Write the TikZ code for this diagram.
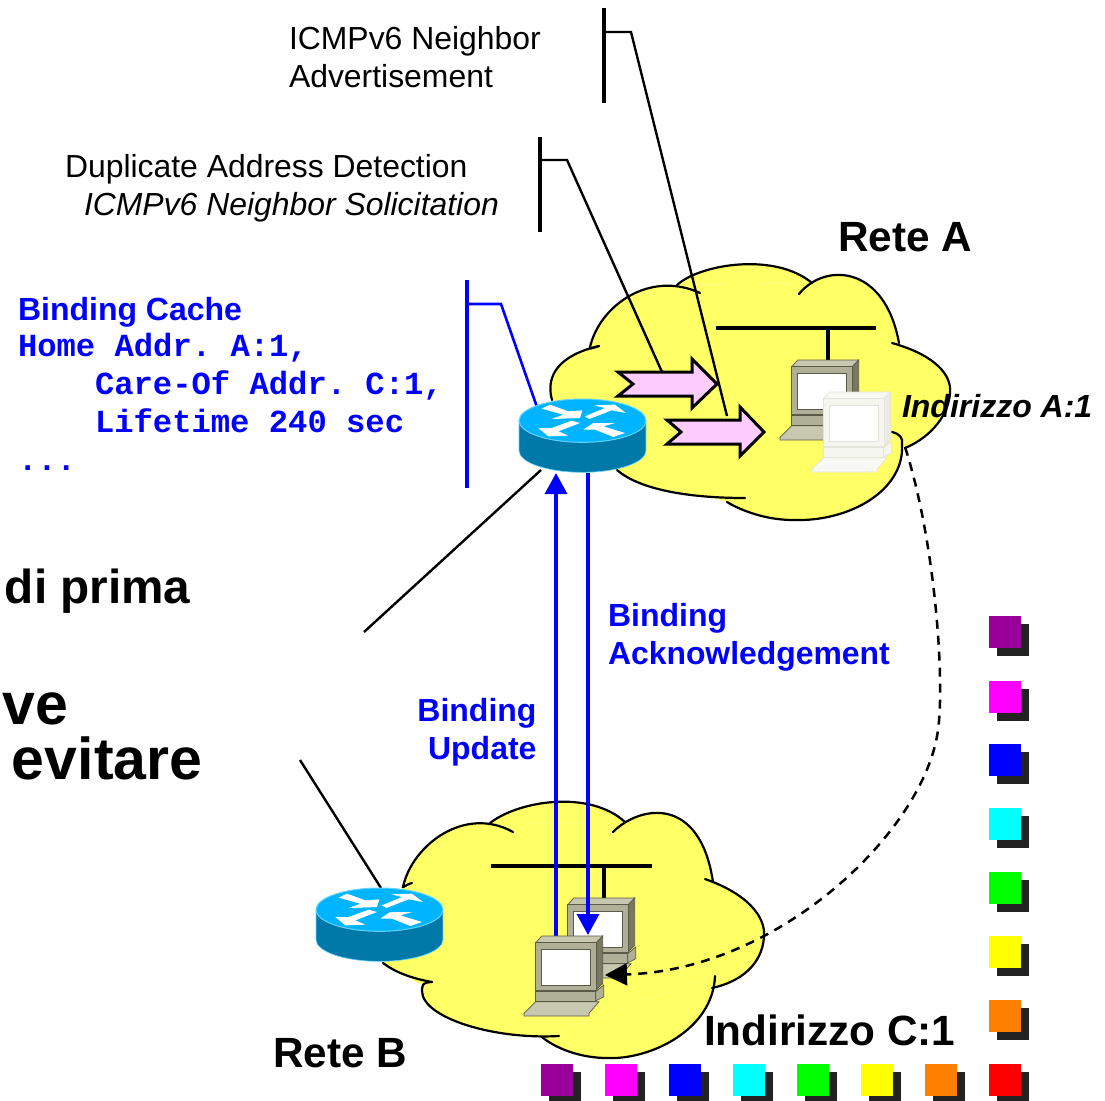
\documentclass[tikz,border=0pt]{standalone}
\usepackage{fontspec}
\setmainfont{Liberation Sans}
\setmonofont{Liberation Mono}
\usetikzlibrary{arrows.meta}
\definecolor{cloudy}{HTML}{FFFF66}
\definecolor{pinkar}{HTML}{FFCCFF}
\definecolor{rtop}{HTML}{00B4FF}
\definecolor{rside}{HTML}{0078A8}
\definecolor{redge}{HTML}{66D4FF}
\definecolor{shad}{HTML}{222222}
\definecolor{purp}{HTML}{990099}
\definecolor{orng}{HTML}{FF8000}
\definecolor{mag}{HTML}{FF00FF}
\definecolor{cyn}{HTML}{00FFFF}
\definecolor{grn}{HTML}{00FF00}
\definecolor{yel}{HTML}{FFFF00}
\definecolor{blu}{HTML}{0000FF}
\definecolor{rd}{HTML}{FF0000}
\definecolor{gface}{HTML}{B0B098}
\definecolor{gtop}{HTML}{C8C8B0}
\definecolor{gside}{HTML}{787860}
\definecolor{gedge}{HTML}{5A5A48}
\definecolor{wface}{HTML}{F6F6F0}
\definecolor{wtop}{HTML}{F8F8F4}
\definecolor{wside}{HTML}{ECECE4}
\definecolor{wedge}{HTML}{E4E4DC}
\newcommand{\txt}[3]{\fontsize{#1}{#2}\selectfont #3}
\tikzset{
 lab/.style={anchor=base west,inner sep=0pt,outer sep=0pt},
 labr/.style={anchor=base east,inner sep=0pt,outer sep=0pt},
 ln/.style={draw=black,line width=2.4pt},
 lnax/.style={draw=black,line width=3.2pt},
 bl/.style={draw=blu,line width=2.6pt},
 blax/.style={draw=blu,line width=3.3pt},
 cl/.style={draw=black,line width=2.2pt,line cap=round},
 pinkarrow/.style={draw=black,fill=pinkar,line width=3pt,miter limit=10},
 blhead/.style={-{Triangle[length=21pt,width=22pt,color=blu]}},
}
\newcommand{\routerpic}[2]{%
\begin{scope}[shift={(#1,#2)},x=0.3333pt,y=-0.3333pt]
 \fill[rside,draw=redge,line width=0.6pt] (0,65) -- (0,155) arc[start angle=180,end angle=0,x radius=190.5,y radius=65] -- (381,65) -- cycle;
 \fill[rtop,draw=redge,line width=1pt] (190.5,65) ellipse[x radius=190.5,y radius=65];
 \fill[white] (68,29)--(93,17)--(148,37)--(190,34)--(183,57)--(98,60)--(133,47)--cycle;
 \fill[white] (198,52)--(258,27)--(226,19)--(288,17)--(321,42)--(278,34)--(211,60)--cycle;
 \fill[white] (58,87)--(88,112)--(148,110)--(118,97)--(183,72)--(158,65)--(98,87)--cycle;
 \fill[white] (193,92)--(223,72)--(288,72)--(253,82)--(318,102)--(283,114)--(228,92)--cycle;
\end{scope}}
\newcommand{\computerpic}[6]{%
\begin{scope}[shift={(#1,#2)}]
 \filldraw[fill=#4,draw=#6,line width=0.7pt] (0,77.3)--(11.7,65.7)--(75,65.7)--(65,77.3)--(65,80)--(0,80)--cycle;
 \filldraw[fill=#3,draw=#6,line width=0.7pt] (11.7,55.7) rectangle (71.7,65);
 \filldraw[fill=#3,draw=#6,line width=0.7pt] (71.7,55.7)--(79.7,49)--(79.7,60.7)--(71.7,65)--cycle;
 \filldraw[fill=#4,draw=#6,line width=0.7pt] (11.7,6.7)--(17.7,0)--(78.7,0)--(72.3,6.7)--cycle;
 \filldraw[fill=#5,draw=#6,line width=0.7pt] (72.3,6.7)--(78.7,0)--(78.7,47.3)--(72.3,54)--cycle;
 \filldraw[fill=#3,draw=#6,line width=0.7pt] (11.7,6.7) rectangle (72.3,54);
 \filldraw[fill=white,draw=#6,line width=0.7pt] (17,13) rectangle (66.7,49);
\end{scope}}
\newcommand{\chipbox}[3]{%
 \fill[shad] (#1+8,#2+8) rectangle ++(32,32);
 \fill[#3] (#1,#2) rectangle ++(32,32);}
\newcommand{\cloudAlobes}{%
\lobe{(599,346) .. controls (590,349) and (590,349) .. (590,347) .. controls (600,305) and (650,270) .. (700,293)}
\lobe{(677,285) .. controls (700,264) and (775,252) .. (812,283)}
\lobe{(799,294) .. controls (825,262) and (885,265) .. (899,343)}
\lobe{(892,343) .. controls (935,355) and (952,375) .. (950,393) .. controls (948,420) and (925,440) .. (905,448)}
\lobe{(892,432) .. controls (900,434) and (903,438) .. (902,444) .. controls (905,490) and (850,522) .. (793,520) .. controls (765,520) and (740,510) .. (727,502)}
\lobe{(745,498) .. controls (690,498) and (640,490) .. (617,470)}
\lobe{(552,400) .. controls (545,375) and (560,355) .. (599,346)}}
\newcommand{\cloudBlobes}{%
\lobe{(412,883) .. controls (405,885) and (403,888) .. (403,887) .. controls (412,845) and (465,805) .. (513,832)}
\lobe{(490,823) .. controls (520,800) and (590,790) .. (625,822)}
\lobe{(613,832) .. controls (640,805) and (700,795) .. (713,882)}
\lobe{(705,879) .. controls (745,893) and (766,915) .. (764,937) .. controls (762,965) and (740,982) .. (712,988)}
\lobe{(715,976) .. controls (713,1030) and (650,1060) .. (607,1058) .. controls (580,1058) and (555,1048) .. (542,1037)}
\lobe{(559,1036) .. controls (490,1040) and (412,1015) .. (423,985) .. controls (424,983) and (428,982) .. (432,982)}
\lobe{(432,982) .. controls (410,978) and (395,972) .. (383,963)}}
\begin{document}
\begin{tikzpicture}[x=1pt,y=-1pt]
\useasboundingbox (0,0) rectangle (1105,1100);
\clip (0,0) rectangle (1105,1100);
\fill[white] (0,0) rectangle (1105,1100);
% cloud fills, then outlines
\fill[cloudy] (599,346)--(677,285)--(812,283)--(899,343)--(905,448)--(892,432)--(902,444)--(727,502)--(617,470)--(552,400)--cycle;
\fill[cloudy] (403,887)--(490,823)--(625,822)--(713,882)--(712,988)--(715,976)--(542,1037)--(422,985)--(383,963)--cycle;
\def\lobe#1{\fill[cloudy] #1 -- cycle;}
\cloudAlobes
\cloudBlobes
\def\lobe#1{\draw[cl] #1;}
\cloudAlobes
\cloudBlobes
% named connector ends
\coordinate (netAl) at (716,328); \coordinate (netAr) at (876,328);
\coordinate (netAt) at (828,328); \coordinate (netAb) at (828,360);
\coordinate (netBl) at (491,866); \coordinate (netBr) at (652,866);
\coordinate (netBt) at (604,866); \coordinate (netBb) at (604,898);
\coordinate (brkAt) at (604,8); \coordinate (brkAb) at (604,103);
\coordinate (brkAm) at (604,32); \coordinate (brkAe) at (631,32); \coordinate (arrTwoTop) at (727,416);
\coordinate (brkBt) at (540,137); \coordinate (brkBb) at (540,232);
\coordinate (brkBm) at (540,160); \coordinate (brkBe) at (567,160); \coordinate (arrOneTop) at (662,372);
\coordinate (brkCt) at (467,280); \coordinate (brkCb) at (467,488);
\coordinate (brkCm) at (467,304); \coordinate (brkCe) at (501,304); \coordinate (routerAtop) at (538,410);
\coordinate (routerAlow) at (541,470); \coordinate (fadeA) at (364,632);
\coordinate (fadeB) at (300,760); \coordinate (routerBtop) at (381,888);
\coordinate (upStart) at (556,940); \coordinate (upEnd) at (556,473);
\coordinate (downStart) at (588,473); \coordinate (downEnd) at (588,935);
\coordinate (dashStart) at (905,447); \coordinate (dashEnd) at (605,975);
\draw[lnax] (netAl)--(netAr);
\draw[lnax] (netAt)--(netAb);
\draw[lnax] (netBl)--(netBr);
\draw[lnax] (netBt)--(netBb);
\draw[ln] (routerAlow)--(fadeA);
\draw[ln] (fadeB)--(routerBtop);
\draw[lnax] (brkAt)--(brkAb);
\draw[ln] (brkAm)--(brkAe)--(arrTwoTop);
\draw[lnax] (brkBt)--(brkBb);
\draw[ln] (brkBm)--(brkBe)--(arrOneTop);
\draw[blax] (brkCt)--(brkCb);
\draw[bl] (brkCm)--(brkCe)--(routerAtop);
% computers
\computerpic{780}{360}{gface}{gtop}{gside}{gedge}
\computerpic{812}{392}{wface}{wtop}{wside}{wedge}
\computerpic{556}{898}{gface}{gtop}{gside}{gedge}
% pink arrows
\draw[pinkarrow] (618,372)--(633,384)--(618,396)--(692,396)--(692,408)--(717,384)--(692,359)--(692,372)--cycle;
\draw[pinkarrow] (667,420)--(681,432)--(667,444)--(740,444)--(740,456)--(764,432)--(740,407)--(740,420)--cycle;
% routers
\routerpic{519}{399}
\routerpic{316}{888}
% blue link arrows
\draw[blax,blhead] (upStart)--(upEnd);
\draw[blax,blhead] (downStart)--(downEnd);
\computerpic{524}{936}{gface}{gtop}{gside}{gedge}
% dashed
\draw[draw=black,line width=2.5pt,dash pattern=on 9pt off 7pt,-{Triangle[length=22pt,width=22pt]}] (dashStart) .. controls (935,540) and (945,680) .. (938,730) .. controls (925,830) and (780,970) .. (dashEnd);
% texts
\node[lab] (t1) at (289,49) {\txt{31.9}{38}{ICMPv6 Neighbor}};
\node[lab] (t2) at (289,87) {\txt{31.9}{38}{Advertisement}};
\node[lab] (t3) at (65,177) {\txt{31.9}{38}{Duplicate Address Detection}};
\node[lab] (t4) at (84,215) {\txt{31.9}{38}{\itshape ICMPv6 Neighbor Solicitation}};
\node[lab] (t5) at (838,251) {\txt{42.3}{46}{\bfseries Rete A}};
\node[lab] (t6) at (902,417) {\txt{32}{36}{\bfseries\itshape Indirizzo A:1}};
\node[lab,text=blu] (t7) at (18,320) {\txt{32}{38}{\bfseries Binding Cache}};
\node[lab,text=blu] (t8) at (18,356) {\txt{32.2}{38}{\ttfamily\bfseries Home Addr. A:1,}};
\node[lab,text=blu] (t9) at (95,394) {\txt{32.2}{38}{\ttfamily\bfseries Care-Of Addr. C:1,}};
\node[lab,text=blu] (t10) at (95,432) {\txt{32.2}{38}{\ttfamily\bfseries Lifetime 240 sec}};
\node[lab,text=blu] (t11) at (18,470) {\txt{32.2}{38}{\ttfamily\bfseries ...}};
\node[lab] (t12) at (5,603) {\txt{47.7}{52}{\bfseries di prima}};
\node[labr] (t13) at (68,724) {\txt{59}{60}{\bfseries ve}};
\node[lab] (t14) at (12,779) {\txt{59}{60}{\bfseries evitare}};
\node[lab,text=blu] (t15) at (608,626) {\txt{32}{38}{\bfseries Binding}};
\node[lab,text=blu] (t16) at (608,664) {\txt{31.9}{38}{\bfseries Acknowledgement}};
\node[labr,text=blu] (t17) at (536.5,721) {\txt{32}{38}{\bfseries Binding}};
\node[labr,text=blu] (t18) at (536.5,759) {\txt{32}{38}{\bfseries Update}};
\node[lab] (t19) at (273,1067) {\txt{42.3}{46}{\bfseries Rete B}};
\node[lab] (t20) at (704,1045) {\txt{42.3}{46}{\bfseries Indirizzo C:1}};
% squares
\chipbox{989}{616}{purp}
\chipbox{989}{681}{mag}
\chipbox{989}{744}{blu}
\chipbox{989}{808}{cyn}
\chipbox{989}{872}{grn}
\chipbox{989}{936}{yel}
\chipbox{989}{1000}{orng}
\chipbox{541}{1064}{purp}
\chipbox{605}{1064}{mag}
\chipbox{669}{1064}{blu}
\chipbox{733}{1064}{cyn}
\chipbox{797}{1064}{grn}
\chipbox{861}{1064}{yel}
\chipbox{925}{1064}{orng}
\chipbox{989}{1064}{rd}
\end{tikzpicture}
\end{document}
